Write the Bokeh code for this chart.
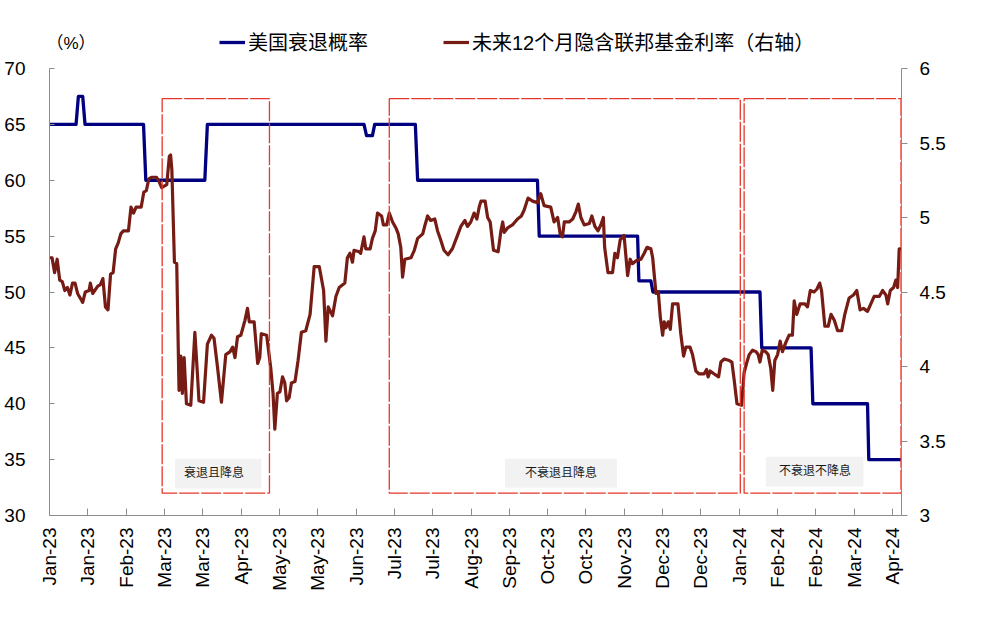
import math
from bokeh.plotting import figure
from bokeh.models import (Range1d, LinearAxis, FixedTicker, Legend, LegendItem, Label)
from bokeh.core.properties import value
from bokeh.embed import file_html
from bokeh.resources import INLINE

# ---------------- data ----------------
TICK_LABELS = ["Jan-23", "Jan-23", "Feb-23", "Mar-23", "Mar-23", "Apr-23", "May-23", "May-23",
               "Jun-23", "Jul-23", "Jul-23", "Aug-23", "Sep-23", "Oct-23", "Oct-23", "Nov-23",
               "Dec-23", "Dec-23", "Jan-24", "Feb-24", "Feb-24", "Mar-24", "Apr-24"]
TICK_STEP = 15          # trading days between axis labels
X_END = 333.5           # last trading-day position on the axis
LEFT_TICKS = [30, 35, 40, 45, 50, 55, 60, 65, 70]
RIGHT_TICKS = [3, 3.5, 4, 4.5, 5, 5.5, 6]

SERIES_NAMES = ["美国衰退概率", "未来12个月隐含联邦基金利率（右轴）"]
UNIT_LABEL = "（%）"

# US recession probability (%), left axis – trading-day index / value (step changes)
rec_x = [0, 10.4, 11.3, 13.0, 13.9, 36.8, 37.7, 60.8, 61.8, 123.1, 124.1, 126.4, 127.3,
         143.2, 144.1, 191.0, 191.7, 230.2, 230.7, 235.4, 236.2, 278.1, 278.8, 298.1,
         298.8, 320.2, 320.7, 333.3]
rec_y = [65, 65, 67.5, 67.5, 65, 65, 60, 60, 65, 65, 64, 64, 65,
         65, 60, 60, 55, 55, 51, 51, 50, 50, 45, 45,
         40, 40, 35, 35]

# implied fed funds rate 12 months ahead (%), right axis
ff_x = [0, 1.0, 2.0, 3.0, 4.0, 5.0, 6.0, 7.0, 8.0, 9.0, 10.0, 11.0, 13.0, 14.0, 15.5, 16.0,
        16.9, 18.9, 19.9, 20.9, 21.9, 22.9, 23.9, 24.9, 25.9, 26.9, 27.9, 28.9, 30.9, 31.9,
        32.9, 33.9, 35.9, 36.9, 37.9, 38.9, 39.9, 41.9, 42.9, 43.9, 45.9, 46.9, 47.4, 47.9,
        48.9, 49.8, 50.7, 51.4, 52.0, 52.7, 53.6, 55.3, 56.9, 57.9, 58.5, 60.3, 61.8, 63.4,
        64.4, 65.8, 67.3, 69.0, 70.7, 71.7, 72.6, 73.6, 74.9, 76.5, 77.5, 78.2, 80.1, 81.5,
        82.3, 82.9, 85.0, 86.6, 87.5, 88.2, 89.2, 90.2, 91.2, 92.1, 92.8, 93.8, 94.7, 96.1,
        97.3, 98.6, 100.3, 102.0, 103.6, 105.6, 107.3, 108.2, 109.1, 110.8, 112.1, 113.4,
        115.6, 116.6, 117.6, 118.6, 119.2, 121.2, 121.8, 123.1, 123.8, 125.5, 126.4, 127.5,
        128.4, 130.0, 130.7, 132.0, 133.0, 134.3, 135.6, 136.5, 137.5, 138.2, 139.1, 141.5,
        142.8, 144.1, 146.1, 147.0, 148.0, 149.2, 150.8, 151.9, 153.1, 154.4, 156.0, 157.7,
        159.7, 161.0, 162.6, 163.6, 164.9, 166.2, 167.3, 168.2, 168.9, 170.5, 171.5, 172.5,
        173.8, 175.6, 176.7, 177.4, 178.0, 179.3, 181.2, 183.2, 184.7, 185.8, 187.3, 189.1,
        191.0, 192.3, 193.6, 196.2, 197.5, 198.9, 199.9, 200.8, 201.5, 203.4, 204.8, 206.1,
        207.0, 208.0, 209.3, 211.3, 212.3, 213.5, 214.7, 215.8, 216.8, 217.3, 218.6, 220.4,
        221.3, 222.3, 223.4, 224.9, 226.3, 227.3, 228.2, 229.6, 231.5, 232.8, 233.9, 235.4,
        236.1, 237.4, 238.3, 239.1, 240.0, 240.6, 241.3, 242.2, 243.0, 243.9, 246.0, 247.1,
        248.2, 249.1, 250.7, 251.7, 253.0, 254.3, 256.2, 257.2, 257.8, 258.6, 260.2, 261.9,
        262.8, 264.1, 266.1, 267.1, 268.0, 269.1, 270.9, 271.9, 273.0, 273.9, 275.2, 276.5,
        277.4, 278.1, 279.0, 280.3, 281.3, 282.3, 283.1, 283.9, 285.0, 286.0, 286.9, 288.2,
        289.5, 290.8, 291.5, 292.5, 293.8, 295.7, 296.7, 297.8, 299.3, 300.4, 301.5, 302.2,
        303.5, 304.8, 305.9, 307.2, 308.5, 310.1, 311.3, 313.0, 314.7, 316.0, 317.3, 318.6,
        320.2, 321.5, 322.8, 324.8, 326.1, 327.4, 328.1, 329.1, 330.4, 331.3, 332.0, 332.6,
        333.3]
ff_y = [4.73, 4.73, 4.63, 4.72, 4.58, 4.57, 4.51, 4.53, 4.48, 4.56, 4.56, 4.49, 4.43, 4.50, 4.51, 4.56,
        4.49, 4.54, 4.55, 4.59, 4.40, 4.38, 4.62, 4.63, 4.79, 4.83, 4.89, 4.91, 4.91, 5.07,
        5.03, 5.07, 5.07, 5.17, 5.18, 5.26, 5.27, 5.27, 5.24, 5.20, 5.22, 5.41, 5.42, 5.32,
        4.70, 4.69, 3.84, 4.07, 3.82, 4.06, 3.75, 3.74, 4.23, 3.95, 3.77, 3.76, 4.15, 4.21,
        4.19, 3.99, 3.76, 4.08, 4.10, 4.13, 4.06, 4.20, 4.21, 4.31, 4.39, 4.30, 4.30, 4.02,
        4.06, 4.22, 4.21, 3.99, 3.82, 3.58, 3.82, 3.83, 3.93, 3.89, 3.77, 3.79, 3.89, 3.90,
        4.04, 4.23, 4.24, 4.35, 4.67, 4.67, 4.51, 4.17, 4.40, 4.34, 4.47, 4.53,
        4.56, 4.73, 4.76, 4.70, 4.78, 4.77, 4.76, 4.87, 4.79, 4.79, 4.86, 4.91,
        5.03, 5.01, 4.95, 4.95, 5.03, 4.97, 4.93, 4.89, 4.80, 4.60, 4.72, 4.73,
        4.78, 4.86, 4.89, 4.95, 5.01, 4.98, 4.99, 4.91, 4.85, 4.78, 4.75, 4.79,
        4.88, 4.94, 4.98, 4.94, 4.97, 5.03, 4.99, 5.07, 5.11, 5.11, 5.00, 4.97,
        4.78, 4.77, 4.91, 4.97, 4.90, 4.93, 4.95, 4.99, 5.01, 5.05, 5.13, 5.11,
        5.10, 5.16, 5.08, 5.07, 4.97, 5.00, 4.89, 4.87, 4.97, 4.97, 4.99, 5.04,
        5.09, 5.00, 4.95, 4.96, 5.01, 4.94, 4.91, 4.95, 5.00, 4.80, 4.63, 4.63,
        4.76, 4.73, 4.85, 4.88, 4.61, 4.72, 4.69, 4.71, 4.72, 4.76, 4.80, 4.79,
        4.73, 4.49, 4.50, 4.33, 4.21, 4.30, 4.26, 4.30, 4.25, 4.42, 4.42, 4.22,
        4.07, 4.13, 4.13, 4.08, 3.97, 3.95, 3.95, 3.98, 3.93, 3.97, 3.95, 3.93,
        4.03, 4.05, 4.04, 4.03, 3.91, 3.75, 3.74, 3.96, 4.03, 4.08, 4.11, 4.10,
        4.08, 4.03, 4.11, 4.10, 4.08, 3.99, 3.84, 4.04, 4.08, 4.17, 4.10, 4.16,
        4.21, 4.21, 4.44, 4.35, 4.42, 4.42, 4.40, 4.51, 4.50, 4.52, 4.56, 4.51,
        4.27, 4.27, 4.35, 4.31, 4.24, 4.24, 4.35, 4.46, 4.48, 4.51, 4.38, 4.39,
        4.37, 4.42, 4.47, 4.47, 4.51, 4.48, 4.42, 4.51, 4.53, 4.58, 4.53, 4.79,
        4.79]

# regime annotation boxes (index range on x, left-axis units on y)
REGIME_NAMES = ["衰退且降息", "不衰退且降息", "不衰退不降息"]
regime_left = [44.1, 133.0, 271.9]
regime_right = [86.1, 270.4, 333.3]
regime_top = [67.3, 67.3, 67.3]
regime_bottom = [32.0, 32.0, 32.0]
tag_left = [49.1, 178.3, 280.4]
tag_right = [82.9, 222.1, 318.6]
tag_bottom = [32.42, 32.48, 32.60]
tag_top = [35.08, 35.08, 35.26]
tag_x = [64.4, 200.2, 299.6]
tag_y = [33.76, 33.76, 33.94]

# ---------------- layout / style ----------------
FONT = "Liberation Sans, Noto Sans CJK SC"
BLUE = "#000080"
RED = "#761c15"
BOX_RED = "#e8362b"
AXIS_GREY = "#8c8c8c"

W, H = 980, 616
LEFT, RIGHT, BOTTOM = 49, 79, 101          # borders in px
PLOT_H = 447                               # height of the 30..70 band in px
HEAD = 68                                  # header strip (legend) above the band, inside the frame
frame_h = PLOT_H + HEAD
left_top = LEFT_TICKS[-1] + (LEFT_TICKS[-1] - LEFT_TICKS[0]) * HEAD / PLOT_H
right_top = RIGHT_TICKS[-1] + (RIGHT_TICKS[-1] - RIGHT_TICKS[0]) * HEAD / PLOT_H

p = figure(width=W, height=H, output_backend="svg", toolbar_location=None,
           x_range=Range1d(0, X_END), y_range=Range1d(LEFT_TICKS[0], left_top),
           min_border_left=LEFT, min_border_right=RIGHT, min_border_top=0,
           min_border_bottom=BOTTOM)
p.outline_line_color = None
p.xgrid.visible = False
p.ygrid.visible = False
p.background_fill_color = "white"
p.border_fill_color = None
p.extra_y_ranges = {"right": Range1d(RIGHT_TICKS[0], right_top)}

# left axis
ya = p.yaxis[0]
ya.ticker = FixedTicker(ticks=LEFT_TICKS)
ya.bounds = (LEFT_TICKS[0], LEFT_TICKS[-1])
ya.major_tick_in = 5
ya.major_tick_out = 0
ya.minor_tick_in = 0
ya.minor_tick_out = 0
ya.major_label_standoff = 24

# right axis
ra = LinearAxis(y_range_name="right", ticker=FixedTicker(ticks=RIGHT_TICKS),
                bounds=(RIGHT_TICKS[0], RIGHT_TICKS[-1]))
ra.major_tick_in = 0
ra.major_tick_out = 6
ra.minor_tick_in = 0
ra.minor_tick_out = 0
ra.major_label_standoff = 12
p.add_layout(ra, "right")

# bottom axis
xa = p.xaxis[0]
ticks = [i * TICK_STEP for i in range(len(TICK_LABELS))]
xa.ticker = FixedTicker(ticks=ticks)
xa.major_label_overrides = {t: lab for t, lab in zip(ticks, TICK_LABELS)}
xa.major_label_orientation = math.pi / 2
xa.major_tick_in = 7
xa.major_tick_out = 0
xa.minor_tick_in = 0
xa.minor_tick_out = 0
xa.major_label_standoff = 12

for ax in (ya, ra, xa):
    ax.axis_line_color = AXIS_GREY
    ax.major_tick_line_color = AXIS_GREY
    ax.major_label_text_font = FONT
    ax.major_label_text_font_size = "19px"
    ax.major_label_text_color = "#000000"

# regime boxes
p.quad(left=tag_left, right=tag_right, top=tag_top, bottom=tag_bottom,
       fill_color="#f2f2f2", line_color=None)
p.text(x=tag_x, y=tag_y, text=REGIME_NAMES, text_font=value(FONT), text_font_size="12px",
       text_align="center", text_baseline="middle", text_color="#1a1a1a")

# series
r_rec = p.line(rec_x, rec_y, line_color=BLUE, line_width=3.3, line_join="round")
r_ff = p.line(ff_x, ff_y, line_color=RED, line_width=3.2, line_join="round", y_range_name="right")

p.quad(left=regime_left, right=regime_right, top=regime_top, bottom=regime_bottom,
       fill_color=None, line_color=BOX_RED, line_width=1.3, line_dash="20 2")

legend = Legend(items=[LegendItem(label=SERIES_NAMES[0], renderers=[r_rec]),
                       LegendItem(label=SERIES_NAMES[1], renderers=[r_ff])],
                orientation="horizontal", location=(170, frame_h - 56),
                padding=0, margin=0, spacing=75, glyph_width=26, glyph_height=24,
                label_height=24, label_standoff=3,
                label_text_font=FONT, label_text_font_size="20px", label_text_color="#000000",
                border_line_color=None, background_fill_alpha=0)
p.add_layout(legend)

# unit label, kept just inside the plotting frame
p.add_layout(Label(x=-3, y=frame_h - 43, x_units="screen", y_units="screen", text=UNIT_LABEL,
                   text_font=FONT, text_font_size="17px", text_align="left",
                   text_baseline="middle", text_color="#000000", level="overlay"))

open("out.html", "w").write(file_html(p, INLINE))
